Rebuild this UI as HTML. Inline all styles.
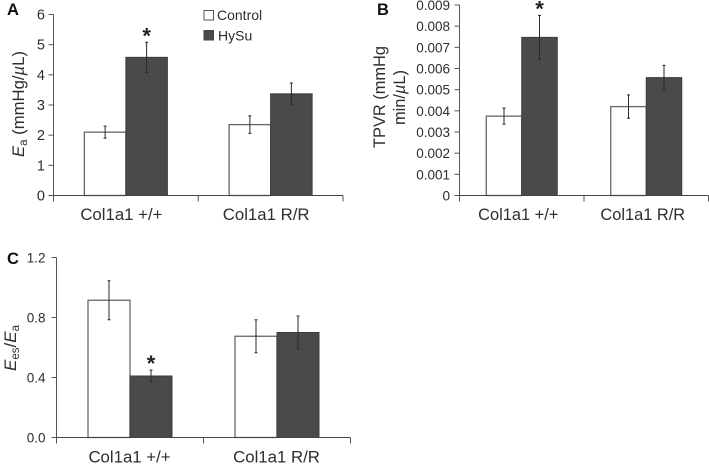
<!DOCTYPE html>
<html lang="en">
<head>
<meta charset="utf-8">
<title>Col1a1 HySu panels</title>
<style>
html,body{margin:0;padding:0;background:#fff;width:709px;height:464px;overflow:hidden}
svg{display:block;font-family:"Liberation Sans",sans-serif;fill:#2e2e2e;filter:blur(0.3px)}
</style>
</head>
<body>
<svg id="fig" width="709" height="464" viewBox="0 0 709 464" xmlns="http://www.w3.org/2000/svg">
  <text x="7" y="15" font-size="16.5" font-weight="bold" fill="#111">A</text>
  <text x="377" y="15" font-size="16.5" font-weight="bold" fill="#111">B</text>
  <text x="7" y="264" font-size="16.5" font-weight="bold" fill="#111">C</text>

  <text transform="translate(24,157) rotate(-90)" font-size="16.7"><tspan font-style="italic">E</tspan><tspan font-size="11.500" dy="3">a</tspan><tspan dy="-3"> (mmHg/</tspan><tspan font-style="italic">µ</tspan><tspan>L)</tspan></text>
  <text transform="translate(385,148) rotate(-90)" font-size="16.4">TPVR (mmHg</text>
  <text transform="translate(405,125) rotate(-90)" font-size="16.4">min/<tspan font-style="italic">µ</tspan>L)</text>
  <text transform="translate(16,371) rotate(-90)" font-size="17"><tspan font-style="italic">E</tspan><tspan font-size="11.500" dy="3">es</tspan><tspan dy="-3">/</tspan><tspan font-style="italic">E</tspan><tspan font-size="11.500" dy="3">a</tspan></text>

  <g>
    <rect x="204" y="10.500" width="9.500" height="9.500" fill="#fff" stroke="#555" stroke-width="1"/>
    <text x="217" y="20" font-size="14">Control</text>
    <rect x="204" y="30.500" width="9.500" height="9.500" fill="#4a4a4a" stroke="#444" stroke-width="1"/>
    <text x="218" y="40.500" font-size="14">HySu</text>
  </g>
</svg>
<script>
var categories = ['Col1a1 +/+', 'Col1a1 R/R'];

var ticksA = ['0', '1', '2', '3', '4', '5', '6'];
var controlA = [2.1, 2.35];
var hysuA = [4.58, 3.37];
var controlErrA = [0.2, 0.29];
var hysuErrA = [0.5, 0.36];

var ticksB = ['0', '0.001', '0.002', '0.003', '0.004', '0.005', '0.006', '0.007', '0.008', '0.009'];
var controlB = [0.00375, 0.0042];
var hysuB = [0.00747, 0.00557];
var controlErrB = [0.00038, 0.00055];
var hysuErrB = [0.00104, 0.00058];

var ticksC = ['0.0', '0.4', '0.8', '1.2'];
var controlC = [0.915, 0.675];
var hysuC = [0.41, 0.70];
var controlErrC = [0.13, 0.11];
var hysuErrC = [0.04, 0.11];

var starFlagsA = [true, false];
var starFlagsB = [true, false];
var starFlagsC = [true, false];

var NS = 'http://www.w3.org/2000/svg';
var svg = document.getElementById('fig');

function make(tag, attrs, parent, text) {
  var el = document.createElementNS(NS, tag);
  for (var k in attrs) { el.setAttribute(k, attrs[k]); }
  if (text !== undefined) { el.textContent = text; }
  parent.appendChild(el);
  return el;
}

function drawError(g, x, top, bottom, name) {
  var grp = make('g', { stroke: '#2a2a2a', 'stroke-width': 1 }, g);
  
  
  make('line', { x1: x, x2: x, y1: top, y2: bottom }, grp);
  make('line', { x1: x - 1.5, x2: x + 1.5, y1: top, y2: top }, grp);
  make('line', { x1: x - 1.5, x2: x + 1.5, y1: bottom, y2: bottom }, grp);
}

function drawPanel(p) {
  var g = make('g', {}, svg);
  
  
  var maxV = parseFloat(p.ticks[p.ticks.length - 1]);
  function y(v) { return p.y0 - (v / maxV) * (p.y0 - p.yTop); }
  var catW = (p.xRight - p.x0) / categories.length;
  function cx(i) { return p.x0 + catW * (i + 0.5); }

  categories.forEach(function (name, i) {
    var c = cx(i);
    var bar1 = make('rect', { x: c - p.barW, y: y(p.control[i]), width: p.barW, height: p.y0 - y(p.control[i]), fill: '#fff', stroke: '#666', 'stroke-width': 1.3 }, g);
    
    
    var bar2 = make('rect', { x: c, y: y(p.hysu[i]), width: p.barW, height: p.y0 - y(p.hysu[i]), fill: '#4a4a4a', stroke: '#3c3c3c', 'stroke-width': 1 }, g);
    
    

    var e1x = c - p.barW / 2;
    drawError(g, e1x, y(p.control[i] + p.controlErr[i]), y(p.control[i] - p.controlErr[i]), 'error-bar-control-' + p.id + '-' + i);
    var e2x = c + p.barW / 2;
    drawError(g, e2x, y(p.hysu[i] + p.hysuErr[i]), y(p.hysu[i] - p.hysuErr[i]), 'error-bar-hysu-' + p.id + '-' + i);

    if (p.stars[i]) {
      var star = make('text', { x: e2x, y: y(p.hysu[i] + p.hysuErr[i]) - p.starGap, 'font-size': 22, 'text-anchor': 'middle', 'font-weight': 'bold', fill: '#222' }, g, '*');
      
      
    }

    var label = make('text', { x: c + p.labelDx, y: p.y0 + p.labelY, 'font-size': p.catSize, 'text-anchor': 'middle' }, g, name);
    
    
  });

  var yAxis = make('line', { x1: p.x0, x2: p.x0, y1: p.yTop, y2: p.y0 + 6, stroke: '#555', 'stroke-width': 1 }, g);
  
  
  var xAxis = make('line', { x1: p.x0, x2: p.xRight, y1: p.y0, y2: p.y0, stroke: '#444', 'stroke-width': 1 }, g);
  
  

  for (var b = 1; b <= categories.length; b++) {
    var bx = p.x0 + catW * b;
    var xt = make('line', { x1: bx, x2: bx, y1: p.y0, y2: p.y0 + 6, stroke: '#555', 'stroke-width': 1 }, g);
    
    
  }

  p.ticks.forEach(function (t) {
    var v = parseFloat(t);
    var tick = make('line', { x1: p.x0 - 5, x2: p.x0, y1: y(v), y2: y(v), stroke: '#555', 'stroke-width': 1 }, g);
    
    
    var lab = make('text', { x: p.x0 - p.tickGap, y: y(v) + 5, 'font-size': p.tickSize, 'text-anchor': 'end' }, g, t);
    
    
  });
}

drawPanel({ id: 'a', ticks: ticksA, control: controlA, hysu: hysuA, controlErr: controlErrA, hysuErr: hysuErrA, stars: starFlagsA,
  x0: 53.5, xRight: 343, y0: 195.5, yTop: 14.5, barW: 41.5, tickSize: 14.5, tickGap: 8.5, catSize: 16.8, labelDx: -4.5, labelY: 24.5, starGap: -1 });
drawPanel({ id: 'b', ticks: ticksB, control: controlB, hysu: hysuB, controlErr: controlErrB, hysuErr: hysuErrB, stars: starFlagsB,
  x0: 459.5, xRight: 708.5, y0: 195.5, yTop: 5, barW: 35.5, tickSize: 13.5, tickGap: 9.5, catSize: 16.4, labelDx: -3.5, labelY: 24.5, starGap: -1 });
drawPanel({ id: 'c', ticks: ticksC, control: controlC, hysu: hysuC, controlErr: controlErrC, hysuErr: hysuErrC, stars: starFlagsC,
  x0: 56.5, xRight: 350.5, y0: 437.5, yTop: 257.5, barW: 42, tickSize: 13.5, tickGap: 11, catSize: 16.8, labelDx: -0.5, labelY: 25, starGap: -1 });
</script>
</body>
</html>
